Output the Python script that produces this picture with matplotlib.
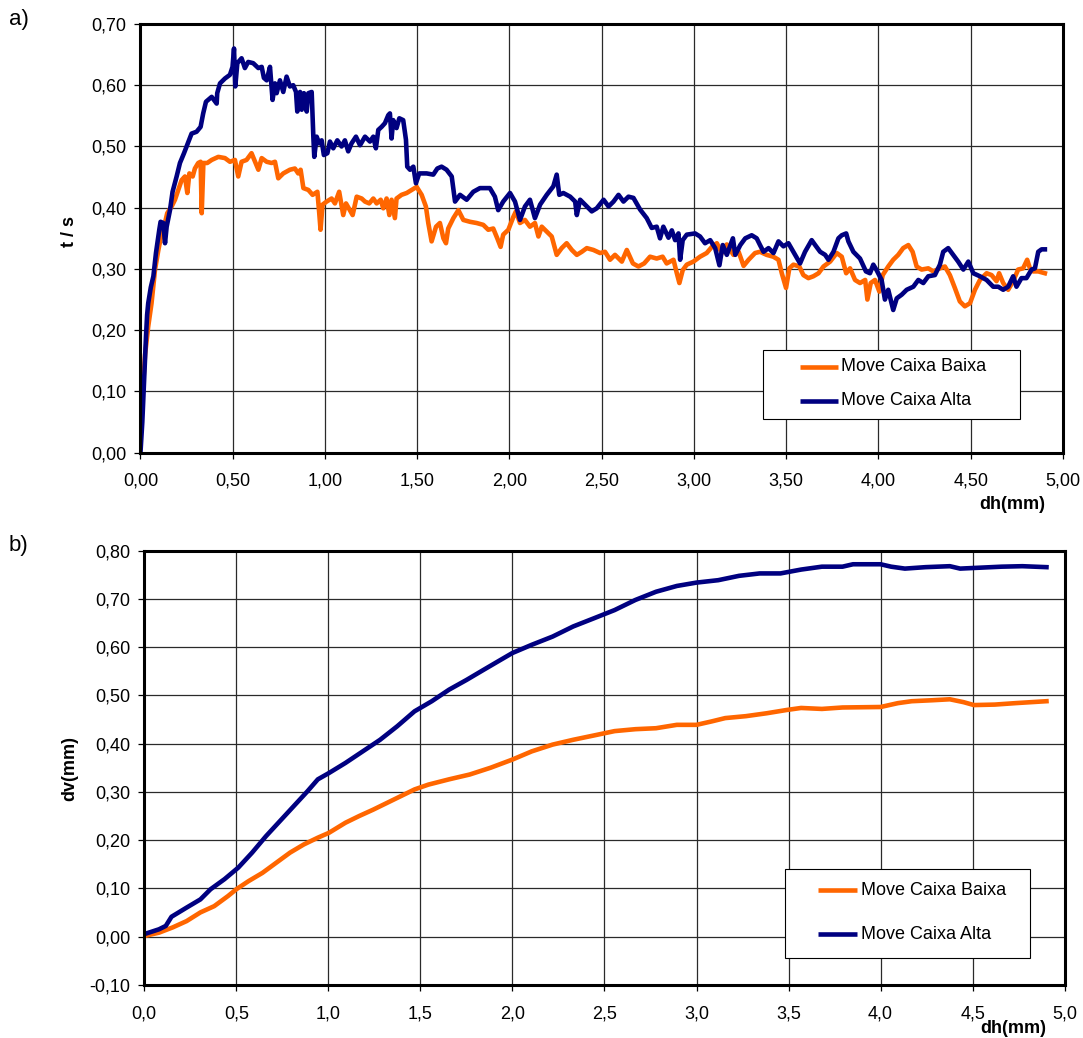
import matplotlib
matplotlib.use("Agg")
import matplotlib.pyplot as plt
from matplotlib.lines import Line2D
from matplotlib.patches import Rectangle
from matplotlib.ticker import FuncFormatter, MultipleLocator

plt.rcParams['font.family'] = ['Liberation Sans', 'DejaVu Sans']

ORANGE = '#FF6600'
NAVY = '#000080'

# ---- a) t/s against dh ----
dh_baixa_a = [0.0, 0.01, 0.025, 0.042, 0.060, 0.079, 0.097, 0.115, 0.124, 0.145, 0.169, 0.187,
              0.205, 0.223, 0.241, 0.254, 0.265, 0.283, 0.295, 0.313, 0.326, 0.332, 0.341, 0.362,
              0.386, 0.422, 0.458, 0.485, 0.512, 0.530, 0.548, 0.575, 0.602, 0.621, 0.639, 0.657,
              0.684, 0.711, 0.729, 0.747, 0.774, 0.810, 0.837, 0.855, 0.868, 0.883, 0.910, 0.933,
              0.959, 0.969, 0.976, 0.987, 1.009, 1.036, 1.054, 1.077, 1.099, 1.114, 1.135, 1.150,
              1.172, 1.199, 1.217, 1.240, 1.262, 1.280, 1.302, 1.316, 1.334, 1.349, 1.361, 1.379,
              1.388, 1.415, 1.443, 1.470, 1.497, 1.524, 1.547, 1.560, 1.578, 1.602, 1.623, 1.642,
              1.656, 1.668, 1.696, 1.723, 1.750, 1.786, 1.822, 1.858, 1.885, 1.912, 1.934, 1.952,
              1.966, 1.994, 2.021, 2.035, 2.057, 2.084, 2.111, 2.138, 2.157, 2.175, 2.202, 2.229,
              2.256, 2.283, 2.310, 2.338, 2.365, 2.392, 2.419, 2.455, 2.491, 2.518, 2.545, 2.572,
              2.609, 2.636, 2.669, 2.699, 2.730, 2.762, 2.798, 2.830, 2.852, 2.889, 2.907, 2.921,
              2.939, 2.961, 2.997, 3.033, 3.069, 3.097, 3.124, 3.151, 3.178, 3.214, 3.242, 3.269,
              3.296, 3.331, 3.358, 3.394, 3.430, 3.458, 3.476, 3.499, 3.517, 3.539, 3.571, 3.593,
              3.620, 3.647, 3.675, 3.702, 3.738, 3.774, 3.801, 3.825, 3.846, 3.873, 3.900, 3.928,
              3.940, 3.958, 3.981, 4.005, 4.023, 4.053, 4.080, 4.107, 4.134, 4.162, 4.185, 4.207,
              4.234, 4.270, 4.297, 4.333, 4.360, 4.387, 4.414, 4.441, 4.468, 4.496, 4.523, 4.550,
              4.586, 4.613, 4.640, 4.654, 4.676, 4.703, 4.730, 4.757, 4.784, 4.806, 4.821, 4.839,
              4.866, 4.902]
ts_baixa = [0.03, 0.09, 0.16, 0.206, 0.244, 0.299, 0.331, 0.358, 0.364, 0.391, 0.402, 0.413,
            0.429, 0.445, 0.451, 0.424, 0.456, 0.451, 0.464, 0.473, 0.475, 0.391, 0.473, 0.473,
            0.478, 0.483, 0.481, 0.475, 0.478, 0.451, 0.475, 0.478, 0.489, 0.475, 0.462, 0.481,
            0.475, 0.473, 0.475, 0.448, 0.456, 0.462, 0.464, 0.456, 0.462, 0.432, 0.429, 0.421,
            0.426, 0.391, 0.364, 0.405, 0.410, 0.415, 0.407, 0.426, 0.388, 0.407, 0.396, 0.388,
            0.418, 0.415, 0.410, 0.407, 0.415, 0.407, 0.413, 0.399, 0.415, 0.388, 0.413, 0.383,
            0.415, 0.421, 0.424, 0.429, 0.434, 0.421, 0.402, 0.375, 0.345, 0.369, 0.375, 0.350,
            0.342, 0.366, 0.383, 0.396, 0.380, 0.377, 0.375, 0.372, 0.364, 0.366, 0.350, 0.336,
            0.356, 0.364, 0.385, 0.394, 0.375, 0.380, 0.369, 0.375, 0.353, 0.369, 0.361, 0.353,
            0.323, 0.334, 0.342, 0.331, 0.323, 0.328, 0.334, 0.331, 0.326, 0.328, 0.315, 0.323,
            0.312, 0.331, 0.309, 0.304, 0.309, 0.320, 0.317, 0.320, 0.309, 0.315, 0.293, 0.277,
            0.298, 0.307, 0.312, 0.320, 0.326, 0.336, 0.342, 0.326, 0.340, 0.323, 0.328, 0.305,
            0.315, 0.326, 0.328, 0.323, 0.320, 0.315, 0.293, 0.269, 0.301, 0.307, 0.304, 0.290,
            0.285, 0.288, 0.293, 0.304, 0.312, 0.326, 0.320, 0.293, 0.301, 0.282, 0.277, 0.282,
            0.250, 0.277, 0.282, 0.263, 0.290, 0.304, 0.315, 0.323, 0.334, 0.339, 0.328, 0.304,
            0.299, 0.301, 0.296, 0.301, 0.304, 0.290, 0.269, 0.247, 0.239, 0.244, 0.266, 0.282,
            0.293, 0.290, 0.280, 0.293, 0.277, 0.266, 0.280, 0.299, 0.301, 0.315, 0.301, 0.296,
            0.296, 0.293]

dh_alta_a = [0.0, 0.01, 0.02, 0.03, 0.036, 0.042, 0.056, 0.070, 0.084, 0.102, 0.109, 0.124,
             0.133, 0.142, 0.160, 0.174, 0.196, 0.214, 0.236, 0.260, 0.277, 0.304, 0.326, 0.340,
             0.355, 0.386, 0.413, 0.416, 0.431, 0.458, 0.485, 0.499, 0.507, 0.514, 0.525, 0.548,
             0.566, 0.584, 0.611, 0.639, 0.657, 0.669, 0.684, 0.702, 0.716, 0.729, 0.738, 0.756,
             0.774, 0.792, 0.810, 0.828, 0.843, 0.850, 0.865, 0.874, 0.886, 0.901, 0.910, 0.928,
             0.937, 0.942, 0.955, 0.969, 0.982, 0.994, 1.013, 1.027, 1.045, 1.067, 1.090, 1.108,
             1.126, 1.144, 1.168, 1.190, 1.217, 1.244, 1.262, 1.276, 1.289, 1.307, 1.325, 1.343,
             1.352, 1.361, 1.370, 1.388, 1.403, 1.424, 1.439, 1.446, 1.461, 1.479, 1.493, 1.511,
             1.551, 1.587, 1.609, 1.632, 1.659, 1.687, 1.705, 1.732, 1.768, 1.804, 1.840, 1.894,
             1.921, 1.939, 1.966, 2.003, 2.030, 2.057, 2.084, 2.111, 2.138, 2.166, 2.202, 2.238,
             2.256, 2.270, 2.292, 2.329, 2.356, 2.365, 2.383, 2.419, 2.446, 2.473, 2.510, 2.537,
             2.564, 2.591, 2.618, 2.645, 2.672, 2.708, 2.744, 2.771, 2.798, 2.816, 2.834, 2.862,
             2.880, 2.898, 2.916, 2.925, 2.939, 2.961, 3.006, 3.033, 3.060, 3.088, 3.115, 3.138,
             3.156, 3.178, 3.211, 3.224, 3.251, 3.278, 3.313, 3.340, 3.358, 3.377, 3.404, 3.431,
             3.458, 3.485, 3.512, 3.539, 3.575, 3.602, 3.638, 3.657, 3.684, 3.711, 3.729, 3.756,
             3.783, 3.801, 3.825, 3.837, 3.864, 3.900, 3.932, 3.954, 3.972, 3.990, 4.017, 4.035,
             4.053, 4.080, 4.099, 4.126, 4.153, 4.189, 4.216, 4.243, 4.270, 4.306, 4.333, 4.351,
             4.378, 4.405, 4.432, 4.460, 4.487, 4.514, 4.550, 4.586, 4.622, 4.649, 4.676, 4.703,
             4.730, 4.748, 4.775, 4.802, 4.830, 4.848, 4.866, 4.884, 4.902]
ts_alta = [0.0, 0.05, 0.12, 0.19, 0.225, 0.244, 0.270, 0.288, 0.326, 0.364, 0.377, 0.375,
           0.342, 0.369, 0.396, 0.426, 0.451, 0.473, 0.489, 0.508, 0.521, 0.524, 0.532, 0.554,
           0.573, 0.581, 0.570, 0.587, 0.603, 0.611, 0.617, 0.630, 0.660, 0.598, 0.636, 0.644,
           0.628, 0.638, 0.636, 0.628, 0.630, 0.612, 0.608, 0.630, 0.576, 0.603, 0.587, 0.608,
           0.589, 0.614, 0.598, 0.600, 0.589, 0.557, 0.589, 0.560, 0.587, 0.557, 0.587, 0.589,
           0.516, 0.483, 0.516, 0.505, 0.510, 0.486, 0.489, 0.508, 0.497, 0.510, 0.500, 0.510,
           0.492, 0.505, 0.516, 0.502, 0.516, 0.508, 0.516, 0.497, 0.527, 0.532, 0.538, 0.551,
           0.554, 0.513, 0.543, 0.530, 0.546, 0.543, 0.511, 0.467, 0.462, 0.467, 0.440, 0.456,
           0.456, 0.454, 0.464, 0.467, 0.462, 0.451, 0.410, 0.421, 0.413, 0.426, 0.432, 0.432,
           0.418, 0.396, 0.410, 0.424, 0.410, 0.380, 0.402, 0.413, 0.383, 0.405, 0.421, 0.435,
           0.454, 0.421, 0.424, 0.418, 0.410, 0.388, 0.413, 0.402, 0.394, 0.399, 0.413, 0.402,
           0.410, 0.421, 0.410, 0.418, 0.416, 0.397, 0.383, 0.367, 0.369, 0.350, 0.369, 0.351,
           0.363, 0.347, 0.358, 0.315, 0.347, 0.356, 0.358, 0.353, 0.342, 0.347, 0.334, 0.306,
           0.339, 0.323, 0.350, 0.323, 0.339, 0.350, 0.355, 0.350, 0.339, 0.328, 0.334, 0.326,
           0.345, 0.337, 0.342, 0.328, 0.309, 0.328, 0.347, 0.339, 0.328, 0.323, 0.315, 0.328,
           0.350, 0.355, 0.358, 0.345, 0.328, 0.317, 0.296, 0.293, 0.307, 0.298, 0.282, 0.250,
           0.266, 0.233, 0.252, 0.258, 0.266, 0.271, 0.282, 0.277, 0.288, 0.290, 0.307, 0.328,
           0.334, 0.323, 0.312, 0.299, 0.312, 0.293, 0.288, 0.282, 0.271, 0.271, 0.266, 0.271,
           0.288, 0.271, 0.285, 0.285, 0.299, 0.301, 0.328, 0.332, 0.332]

# ---- b) dv against dh ----
dh_baixa_b = [0.0, 0.08, 0.155, 0.23, 0.305, 0.38, 0.455, 0.5, 0.567, 0.642, 0.717, 0.792,
              0.867, 0.943, 1.003, 1.093, 1.168, 1.243, 1.318, 1.393, 1.468, 1.543, 1.656,
              1.768, 1.881, 2.0, 2.105, 2.218, 2.330, 2.443, 2.555, 2.668, 2.780, 2.893, 3.0,
              3.081, 3.156, 3.268, 3.381, 3.493, 3.568, 3.681, 3.793, 4.0, 4.094, 4.169, 4.281,
              4.376, 4.451, 4.507, 4.620, 4.732, 4.901]
dv_baixa = [0.001, 0.008, 0.019, 0.032, 0.050, 0.063, 0.084, 0.098, 0.115, 0.132, 0.153, 0.174,
            0.191, 0.205, 0.215, 0.236, 0.250, 0.263, 0.277, 0.291, 0.305, 0.315, 0.326,
            0.336, 0.350, 0.367, 0.384, 0.398, 0.408, 0.417, 0.426, 0.430, 0.432, 0.439, 0.439,
            0.446, 0.453, 0.457, 0.463, 0.470, 0.474, 0.472, 0.475, 0.476, 0.484, 0.488, 0.490,
            0.492, 0.486, 0.480, 0.481, 0.484, 0.488]

dh_alta_b = [0.0, 0.08, 0.117, 0.148, 0.23, 0.305, 0.36, 0.436, 0.511, 0.586, 0.661, 0.736,
             0.811, 0.886, 0.943, 1.003, 1.093, 1.187, 1.281, 1.374, 1.468, 1.562, 1.656,
             1.750, 1.843, 1.937, 2.0, 2.105, 2.218, 2.330, 2.443, 2.555, 2.668, 2.780, 2.893,
             3.0, 3.118, 3.231, 3.343, 3.456, 3.568, 3.681, 3.793, 3.850, 4.0, 4.057, 4.132,
             4.244, 4.376, 4.432, 4.545, 4.657, 4.770, 4.901]
dv_alta = [0.005, 0.015, 0.022, 0.041, 0.060, 0.077, 0.098, 0.119, 0.143, 0.174, 0.208, 0.239,
           0.270, 0.301, 0.326, 0.339, 0.360, 0.384, 0.408, 0.436, 0.467, 0.488, 0.512,
           0.532, 0.553, 0.574, 0.588, 0.605, 0.622, 0.643, 0.660, 0.677, 0.698, 0.715, 0.727,
           0.734, 0.739, 0.748, 0.753, 0.753, 0.761, 0.767, 0.767, 0.772, 0.772, 0.767, 0.763,
           0.766, 0.768, 0.763, 0.765, 0.767, 0.768, 0.766]

labels = ['Move Caixa Baixa', 'Move Caixa Alta']


def comma(fmt):
    return FuncFormatter(lambda v, pos: (fmt % v).replace('.', ','))


def style_axes(ax, xfmt, yfmt, xpad):
    for s in ax.spines.values():
        s.set_linewidth(2.2)
        s.set_color('black')
    ax.grid(True, color='#2a2a2a', linewidth=0.9)
    ax.set_axisbelow(True)
    ax.xaxis.set_major_locator(MultipleLocator(0.5))
    ax.yaxis.set_major_locator(MultipleLocator(0.1))
    ax.xaxis.set_major_formatter(comma(xfmt))
    ax.yaxis.set_major_formatter(comma(yfmt))
    ax.tick_params(axis='both', direction='out', length=4, width=0.9, labelsize=13)
    ax.tick_params(axis='x', pad=xpad)
    ax.tick_params(axis='y', pad=6)


def draw_key(ax, box, rows, handle_x, text_x):
    x0, y0, x1, y1 = box
    ax.add_patch(Rectangle((x0, y0), x1 - x0, y1 - y0, transform=ax.transAxes,
                           facecolor='white', edgecolor='black', linewidth=0.8, zorder=5))
    for lab, col, yy in zip(labels, [ORANGE, NAVY], rows):
        ax.add_line(Line2D(handle_x, [yy, yy], transform=ax.transAxes, color=col,
                           linewidth=3.3, solid_capstyle='butt', zorder=6))
        ax.text(text_x, yy, lab, transform=ax.transAxes, ha='left', va='center',
                fontsize=13, zorder=6)


fig = plt.figure(figsize=(10.83, 10.38), dpi=100)

# top panel
ax1 = fig.add_axes([0.1297, 0.5639, 0.8518, 0.4130])
ax1.plot(dh_baixa_a, ts_baixa, color=ORANGE, linewidth=3.3)
ax1.plot(dh_alta_a, ts_alta, color=NAVY, linewidth=3.3)
ax1.set_xlim(0, 5)
ax1.set_ylim(0, 0.7)
style_axes(ax1, '%.2f', '%.2f', 10)
ax1.set_ylabel('t / s', fontsize=13, fontweight='bold')
ax1.yaxis.set_label_coords(-0.068, 0.515)
ax1.set_xlabel('dh(mm)', fontsize=13, fontweight='bold', ha='right', va='center')
ax1.xaxis.set_label_coords(0.9805, -0.122)
draw_key(ax1, (0.6745, 0.0779, 0.9531, 0.2396), [0.2006, 0.1213],
         [0.7154, 0.7561], 0.7597)

# bottom panel
ax2 = fig.add_axes([0.1332, 0.0513, 0.8499, 0.4181])
ax2.plot(dh_baixa_b, dv_baixa, color=ORANGE, linewidth=3.3)
ax2.plot(dh_alta_b, dv_alta, color=NAVY, linewidth=3.3)
ax2.set_xlim(0, 5)
ax2.set_ylim(-0.1, 0.8)
style_axes(ax2, '%.1f', '%.2f', 11)
ax2.set_ylabel('dv(mm)', fontsize=13, fontweight='bold')
ax2.yaxis.set_label_coords(-0.072, 0.498)
ax2.set_xlabel('dh(mm)', fontsize=13, fontweight='bold', ha='right', va='center')
ax2.xaxis.set_label_coords(0.9797, -0.0998)
draw_key(ax2, (0.6961, 0.0615, 0.9623, 0.2666), [0.2182, 0.1161],
         [0.7318, 0.7748], 0.7787)

fig.text(9 / 1083, 1 - 20 / 1038, 'a)', fontsize=16, ha='left', va='center')
fig.text(9 / 1083, 1 - 546 / 1038, 'b)', fontsize=16, ha='left', va='center')

fig.savefig('out.png', dpi=100)
